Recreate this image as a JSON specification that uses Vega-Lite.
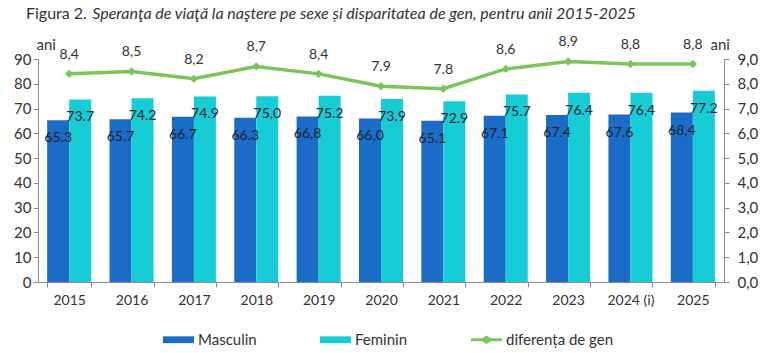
{
  "$schema": "https://vega.github.io/schema/vega-lite/v6.json",
  "width": 686,
  "height": 223,
  "autosize": {"type": "none"},
  "padding": {"left": 38, "top": 59, "right": 44, "bottom": 71},
  "background": "white",
  "config": {
    "font": "Lato",
    "view": {"stroke": null},
    "axis": {
      "grid": false,
      "domainColor": "#8c8c8c",
      "tickColor": "#8c8c8c",
      "tickSize": 5,
      "labelColor": "#333333",
      "labelFontSize": 15,
      "titleColor": "#333333",
      "titleFontWeight": "normal",
      "titleFontSize": 15
    }
  },
  "title": {
    "text": "Figura 2.",
    "subtitle": "\u200b\u2003\u2003\u2003\u2003\u2003\u2003Speranţa de viaţă la naştere pe sexe și disparitatea de gen, pentru anii 2015-2025",
    "anchor": "start",
    "frame": "group",
    "dx": -12,
    "offset": 13,
    "fontSize": 16,
    "fontWeight": "normal",
    "color": "#333333",
    "subtitleFontSize": 16,
    "subtitleFontStyle": "italic",
    "subtitleColor": "#333333",
    "subtitlePadding": -16
  },
  "datasets": {
    "speranta": [
      {"an": "2015", "sex": "Masculin", "ani": 65.3, "eticheta": "65.3"},
      {"an": "2015", "sex": "Feminin", "ani": 73.7, "eticheta": "73.7"},
      {"an": "2016", "sex": "Masculin", "ani": 65.7, "eticheta": "65.7"},
      {"an": "2016", "sex": "Feminin", "ani": 74.2, "eticheta": "74.2"},
      {"an": "2017", "sex": "Masculin", "ani": 66.7, "eticheta": "66.7"},
      {"an": "2017", "sex": "Feminin", "ani": 74.9, "eticheta": "74.9"},
      {"an": "2018", "sex": "Masculin", "ani": 66.3, "eticheta": "66.3"},
      {"an": "2018", "sex": "Feminin", "ani": 75.0, "eticheta": "75,0"},
      {"an": "2019", "sex": "Masculin", "ani": 66.8, "eticheta": "66,8"},
      {"an": "2019", "sex": "Feminin", "ani": 75.2, "eticheta": "75.2"},
      {"an": "2020", "sex": "Masculin", "ani": 66.0, "eticheta": "66,0"},
      {"an": "2020", "sex": "Feminin", "ani": 73.9, "eticheta": "73.9"},
      {"an": "2021", "sex": "Masculin", "ani": 65.1, "eticheta": "65.1"},
      {"an": "2021", "sex": "Feminin", "ani": 72.9, "eticheta": "72.9"},
      {"an": "2022", "sex": "Masculin", "ani": 67.1, "eticheta": "67.1"},
      {"an": "2022", "sex": "Feminin", "ani": 75.7, "eticheta": "75.7"},
      {"an": "2023", "sex": "Masculin", "ani": 67.4, "eticheta": "67.4"},
      {"an": "2023", "sex": "Feminin", "ani": 76.4, "eticheta": "76.4"},
      {"an": "2024 (i)", "sex": "Masculin", "ani": 67.6, "eticheta": "67.6"},
      {"an": "2024 (i)", "sex": "Feminin", "ani": 76.4, "eticheta": "76,4"},
      {"an": "2025", "sex": "Masculin", "ani": 68.4, "eticheta": "68,4"},
      {"an": "2025", "sex": "Feminin", "ani": 77.2, "eticheta": "77.2"}
    ],
    "diferenta": [
      {"an": "2015", "dif": 8.4, "eticheta": "8,4"},
      {"an": "2016", "dif": 8.5, "eticheta": "8,5"},
      {"an": "2017", "dif": 8.2, "eticheta": "8,2"},
      {"an": "2018", "dif": 8.7, "eticheta": "8,7"},
      {"an": "2019", "dif": 8.4, "eticheta": "8,4"},
      {"an": "2020", "dif": 7.9, "eticheta": "7.9"},
      {"an": "2021", "dif": 7.8, "eticheta": "7.8"},
      {"an": "2022", "dif": 8.6, "eticheta": "8,6"},
      {"an": "2023", "dif": 8.9, "eticheta": "8,9"},
      {"an": "2024 (i)", "dif": 8.8, "eticheta": "8,8"},
      {"an": "2025", "dif": 8.8, "eticheta": "8,8"}
    ]
  },
  "encoding": {
    "x": {
      "field": "an",
      "type": "nominal",
      "scale": {"paddingInner": 0.294, "paddingOuter": 0.147},
      "axis": {
        "title": null,
        "labelAngle": 0,
        "tickBand": "extent",
        "labelFontSize": 14,
        "labelPadding": 6
      }
    }
  },
  "layer": [
    {
      "data": {"name": "speranta"},
      "encoding": {
        "xOffset": {"field": "sex", "type": "nominal", "sort": ["Masculin", "Feminin"], "scale": {"paddingInner": 0, "paddingOuter": 0}},
        "y": {
          "field": "ani",
          "type": "quantitative",
          "scale": {"domain": [0, 90], "nice": false},
          "axis": {
            "values": [0, 10, 20, 30, 40, 50, 60, 70, 80, 90],
            "title": "ani",
            "titleAngle": 0,
            "titleAlign": "left",
            "titleBaseline": "middle",
            "titleX": -2,
            "titleY": -15,
            "labelPadding": 2
          }
        }
      },
      "layer": [
        {
          "mark": {"type": "bar"},
          "encoding": {
            "color": {
              "field": "sex",
              "type": "nominal",
              "scale": {
                "domain": ["Masculin", "Feminin", "diferența de gen"],
                "range": ["#1a6cc6", "#16cdd6", "#7cc45c"]
              },
              "legend": {
                "title": null,
                "orient": "none",
                "direction": "horizontal",
                "legendX": 125,
                "legendY": 265,
                "symbolSize": 961,
                "labelFontSize": 15,
                "labelColor": "#333333",
                "labelOffset": 4,
                "columnPadding": 63,
                "encode": {
                  "symbols": {
                    "update": {
                      "shape": {"signal": "datum.value === 'diferența de gen' ? 'M-1,-0.09H-0.28L0,-0.28L0.28,-0.09H1V0.09H0.28L0,0.28L-0.28,0.09H-1Z' : 'M-1,-0.22H1V0.22H-1Z'"},
                      "fill": {"signal": "datum.value === 'Masculin' ? '#1a6cc6' : datum.value === 'Feminin' ? '#16cdd6' : '#7cc45c'"},
                      "strokeWidth": {"value": 0},
                      "opacity": {"value": 1},
                      "fillOpacity": {"value": 1}
                    }
                  }
                }
              }
            }
          }
        },
        {
          "mark": {"type": "text", "baseline": "middle", "align": "center", "dy": 18, "fontSize": 14, "color": "#1c2433"},
          "encoding": {"text": {"field": "eticheta"}}
        }
      ]
    },
    {
      "data": {"name": "diferenta"},
      "encoding": {
        "y": {
          "field": "dif",
          "type": "quantitative",
          "scale": {"domain": [0, 9], "nice": false},
          "axis": {
            "orient": "right",
            "values": [0, 1, 2, 3, 4, 5, 6, 7, 8, 9],
            "labelExpr": "replace(format(datum.value, '.1f'), '.', ',')",
            "title": "ani",
            "titleAngle": 0,
            "titleAlign": "left",
            "titleBaseline": "middle",
            "titleX": -14,
            "titleY": -15,
            "labelPadding": 8
          }
        }
      },
      "layer": [
        {
          "mark": {
            "type": "line",
            "strokeWidth": 3.5,
            "point": {"shape": "diamond", "filled": true, "size": 70, "color": "#7cc45c"}
          },
          "encoding": {"color": {"datum": "diferența de gen"}}
        },
        {
          "mark": {"type": "text", "baseline": "middle", "align": "center", "dy": -19, "fontSize": 14, "color": "#333333"},
          "encoding": {"text": {"field": "eticheta"}}
        }
      ]
    }
  ],
  "resolve": {"scale": {"y": "independent"}}
}
